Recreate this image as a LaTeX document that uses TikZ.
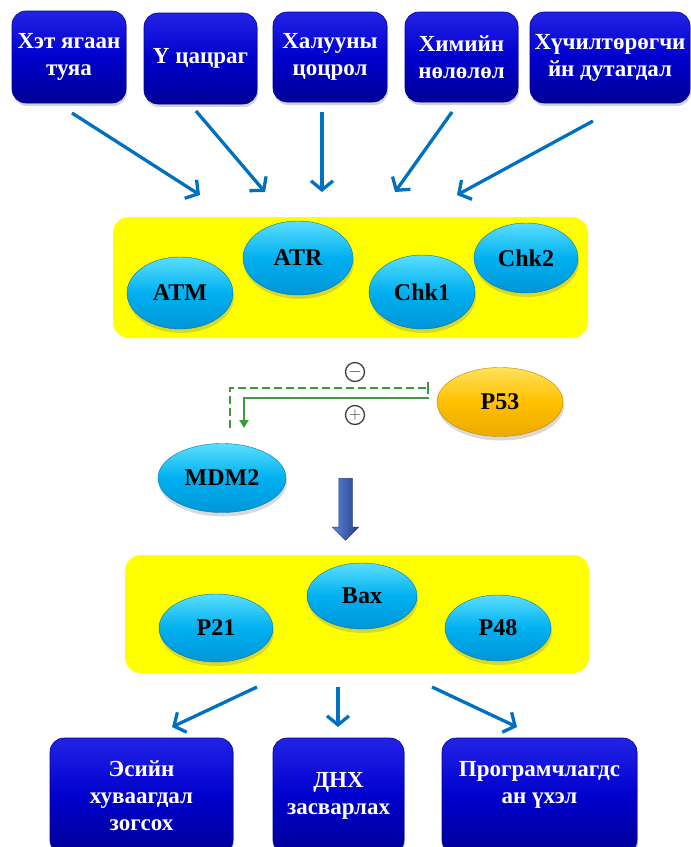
\documentclass[tikz,border=0pt]{standalone}
\usepackage{fontspec}
\setmainfont{Liberation Serif}
\usetikzlibrary{arrows.meta,shapes.geometric,shapes.arrows,shadows}
\definecolor{boxblue}{RGB}{0,0,205}
\definecolor{boxtop}{RGB}{35,35,230}
\definecolor{boxbot}{RGB}{0,0,150}
\definecolor{arrblue}{RGB}{0,112,192}
\definecolor{cyanmid}{RGB}{0,176,240}
\definecolor{cyantop}{RGB}{90,222,255}
\definecolor{cyanbot}{RGB}{0,150,215}
\definecolor{goldmid}{RGB}{255,192,0}
\definecolor{goldtop}{RGB}{255,225,90}
\definecolor{goldbot}{RGB}{235,170,0}
\definecolor{zoneyellow}{RGB}{255,255,0}
\definecolor{grn}{RGB}{60,155,60}
\definecolor{signgray}{RGB}{60,60,70}
\definecolor{bigarrowl}{RGB}{95,135,220}
\definecolor{bigarrowr}{RGB}{35,60,135}
\tikzset{
  bluebox/.style={rectangle, rounded corners=14pt, top color=boxtop, bottom color=boxbot, middle color=boxblue,
    draw=boxbot, line width=0.6pt, text=white, align=center, inner sep=0pt,
    font=\fontsize{23}{27}\selectfont\bfseries,
    drop shadow={shadow xshift=1pt, shadow yshift=-3pt, opacity=0.35}},
  zone/.style={rectangle, rounded corners=16pt, fill=zoneyellow, inner sep=0pt},
  prot/.style={ellipse, inner sep=0pt, top color=cyantop, bottom color=cyanbot, middle color=cyanmid,
    draw=cyanbot!80!black, line width=0.4pt, font=\fontsize{24}{28}\selectfont\bfseries,
    drop shadow={shadow xshift=1pt, shadow yshift=-4pt, opacity=0.3}},
  goldprot/.style={prot, top color=goldtop, bottom color=goldbot, middle color=goldmid, draw=goldbot!80!black},
  flow/.style={draw=arrblue, line width=3.3pt, -{Straight Barb[length=9pt,width=22pt]}},
  sign/.style={circle, draw=signgray, line width=1.3pt, minimum size=19pt, inner sep=0pt, text=signgray,
    font=\fontsize{16}{16}\selectfont},
}
\begin{document}
\begin{tikzpicture}[x=1pt,y=-1pt]
\useasboundingbox (0,0) rectangle (691,847);
\clip (0,0) rectangle (691,847);
% top boxes
\node[bluebox, minimum width=114pt, minimum height=92pt] (b1) at (69,57) {Хэт ягаан\\туяа};
\node[bluebox, minimum width=113pt, minimum height=91pt] (b2) at (200.5,58.5) {Ү цацраг};
\node[bluebox, minimum width=114pt, minimum height=90pt] (b3) at (330,57) {Халууны\\цоцрол};
\node[bluebox, minimum width=113pt, minimum height=90pt] (b4) at (461.5,57) {Химийн\\нөлөлөл};
\node[bluebox, minimum width=160pt, minimum height=91pt] (b5) at (610,57.5) {Хүчилтөрөгчи\\йн дутагдал};
% zone 1
\node[zone, minimum width=475pt, minimum height=121pt] (z1) at (350.5,277.5) {};
\node[prot, minimum width=106pt, minimum height=72pt] (atm) at (180,293) {ATM};
\node[prot, minimum width=110pt, minimum height=74pt] (atr) at (298,258) {ATR};
\node[prot, minimum width=106pt, minimum height=74pt] (chk1) at (422,292) {Chk1};
\node[prot, minimum width=104pt, minimum height=70pt] (chk2) at (526,258) {Chk2};
% arrows top
\coordinate (s1) at (72,113);  \coordinate (e1) at (200,195);
\coordinate (s2) at (196,111); \coordinate (e2) at (265,192);
\coordinate (s3) at (322,112); \coordinate (e3) at (322,192);
\coordinate (s4) at (452,112); \coordinate (e4) at (395,192);
\coordinate (s5) at (593,121); \coordinate (e5) at (457,195);
\draw[flow] (s1) -- (e1);
\draw[flow] (s2) -- (e2);
\draw[flow] (s3) -- (e3);
\draw[flow] (s4) -- (e4);
\draw[flow] (s5) -- (e5);
% P53 / MDM2
\node[goldprot, minimum width=126pt, minimum height=69pt] (p53) at (500,402) {P53};
\node[prot, minimum width=128pt, minimum height=69pt] (mdm2) at (222,478) {MDM2};
\coordinate (dA) at (230,428);
\coordinate (dB) at (230,388);
\coordinate (dC) at (429,388);
\draw[grn, line width=2.4pt, dash pattern=on 8pt off 4pt, -{Bar[width=12pt,line width=2.4pt]}] (dA) -- (dB) -- (dC);
\coordinate (sA) at (429,398);
\coordinate (sB) at (244,398);
\coordinate (sC) at (244,428);
\draw[grn, line width=2pt, -{Triangle[length=8pt,width=9pt]}] (sA) -- (sB) -- (sC);
\node[sign] (minus) at (355,372) {$-$};
\node[sign] (plus) at (355,415) {$+$};
% block arrow
\node[single arrow, rotate=-90, minimum height=62pt, minimum width=26pt, inner sep=6.5pt,
  single arrow head extend=6.5pt, single arrow head indent=0pt,
  left color=bigarrowl, right color=bigarrowr, draw=bigarrowr, line width=0.5pt] (big) at (345.5,506) {};
% zone 2
\node[zone, minimum width=464pt, minimum height=118pt] (z2) at (357,614) {};
\node[prot, minimum width=114pt, minimum height=68pt] (p21) at (216,628) {P21};
\node[prot, minimum width=110pt, minimum height=66pt] (bax) at (362,596) {Bax};
\node[prot, minimum width=106pt, minimum height=66pt] (p48) at (498,628) {P48};
% bottom arrows
\coordinate (t1) at (257,687); \coordinate (f1) at (172,727);
\coordinate (t2) at (338,687); \coordinate (f2) at (338,727);
\coordinate (t3) at (432,687); \coordinate (f3) at (517,727);
\draw[flow] (t1) -- (f1);
\draw[flow] (t2) -- (f2);
\draw[flow] (t3) -- (f3);
% bottom boxes
\node[bluebox, minimum width=183pt, minimum height=116pt] (c1) at (141.5,796) {Эсийн\\хуваагдал\\зогсох};
\node[bluebox, minimum width=131pt, minimum height=116pt] (c2) at (338.5,796) {ДНХ\\засварлах};
\node[bluebox, minimum width=195pt, minimum height=116pt] (c3) at (539.5,796) {Програмчлагдс\\ан үхэл\\\mbox{}};
\end{tikzpicture}
\end{document}
